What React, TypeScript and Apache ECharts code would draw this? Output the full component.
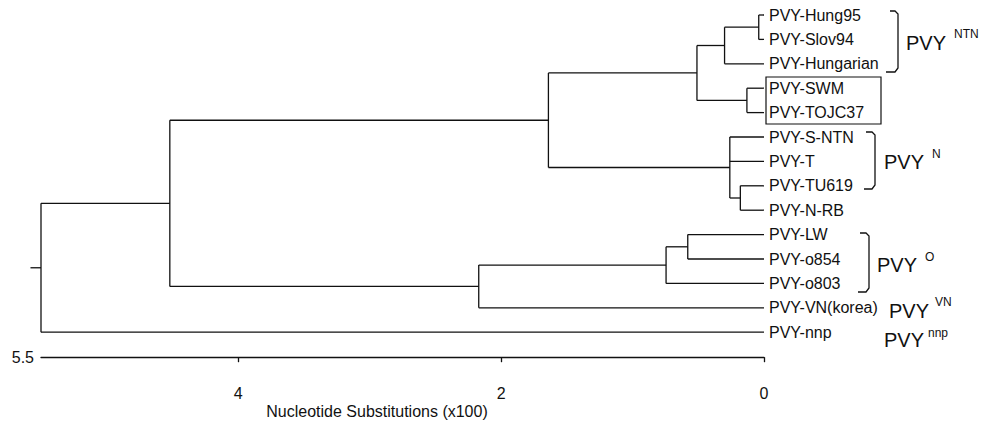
import React, { useEffect, useRef } from "react";
import * as echarts from "echarts";

// Leaves, top to bottom
const leafNames = [
  "PVY-Hung95",
  "PVY-Slov94",
  "PVY-Hungarian",
  "PVY-SWM",
  "PVY-TOJC37",
  "PVY-S-NTN",
  "PVY-T",
  "PVY-TU619",
  "PVY-N-RB",
  "PVY-LW",
  "PVY-o854",
  "PVY-o803",
  "PVY-VN(korea)",
  "PVY-nnp",
];

// Internal nodes (merge order): children ids and node height (x100 substitutions)
const mergeChildren: string[][] = [
  ["L0", "L1"],
  ["N0", "L2"],
  ["L3", "L4"],
  ["N1", "N2"],
  ["L7", "L8"],
  ["L5", "L6", "N4"],
  ["N3", "N5"],
  ["L9", "L10"],
  ["N7", "L11"],
  ["N8", "L12"],
  ["N6", "N9"],
  ["N10", "L13"],
];
const mergeHeights = [0.04, 0.3, 0.13, 0.51, 0.18, 0.26, 1.64, 0.58, 0.745, 2.17, 4.52, 5.5];
const rootStub = 0.08;

const axisTicks = [0, 2, 4];
const axisMax = 5.5;
const axisTitle = "Nucleotide Substitutions (x100)";

const cladeNames = ["NTN", "N", "O", "VN", "nnp"];

const FONT = "'Liberation Sans', Arial, sans-serif";
const INK = "#111";

function buildSegments() {
  const pos: Record<string, { x: number; y: number }> = {};
  leafNames.forEach((_, i) => (pos["L" + i] = { x: 0, y: i }));
  const segs: number[][][] = [];
  mergeChildren.forEach((ch, k) => {
    const h = mergeHeights[k];
    const ys = ch.map((c) => pos[c].y);
    const y0 = ys[0];
    const y1 = ys[ys.length - 1];
    segs.push([
      [h, y0],
      [h, y1],
    ]);
    ch.forEach((c) => {
      segs.push([
        [h, pos[c].y],
        [pos[c].x, pos[c].y],
      ]);
    });
    pos["N" + k] = { x: h, y: (y0 + y1) / 2 };
  });
  const root = pos["N" + (mergeChildren.length - 1)];
  segs.push([
    [root.x + rootStub, root.y],
    [root.x, root.y],
  ]);
  return segs;
}

export default function App() {
  const ref = useRef<HTMLDivElement>(null);
  useEffect(() => {
    if (!ref.current) return;
    const chart = echarts.init(ref.current, null, { renderer: "svg" });
    const segs = buildSegments();
    const lineStyle = { stroke: INK, lineWidth: 1.3, fill: "none" };
    const big = (text: string, x: number, y: number) => ({
      type: "text",
      x,
      y,
      style: { text, font: `20px ${FONT}`, fill: INK, textVerticalAlign: "middle" },
    });
    const sup = (text: string, x: number, y: number) => ({
      type: "text",
      x,
      y,
      style: { text, font: `12px ${FONT}`, fill: INK, textVerticalAlign: "middle" },
    });
    chart.setOption({
      animation: false,
      backgroundColor: "#fff",
      grid: { left: 41, right: 225, top: 15, bottom: 96.8 },
      xAxis: {
        type: "value",
        inverse: true,
        min: 0,
        max: axisMax,
        interval: 2,
        offset: 25,
        axisLine: { show: true, onZero: false, lineStyle: { color: INK, width: 1.3 } },
        axisTick: { show: true, length: 5, customValues: axisTicks, lineStyle: { color: INK, width: 1.3 } },
        axisLabel: {
          customValues: axisTicks,
          margin: 28,
          color: INK,
          fontSize: 16,
          fontFamily: FONT,
        },
        splitLine: { show: false },
      },
      yAxis: {
        type: "value",
        inverse: true,
        min: 0,
        max: leafNames.length - 1,
        interval: 1,
        position: "right",
        axisLine: { show: false, onZero: false },
        axisTick: { show: false },
        splitLine: { show: false },
        axisLabel: {
          margin: 5,
          color: INK,
          fontSize: 16,
          fontFamily: FONT,
          formatter: (v: number) => leafNames[v] ?? "",
        },
      },
      series: [
        {
          type: "lines",
          coordinateSystem: "cartesian2d",
          polyline: true,
          clip: false,
          silent: true,
          lineStyle: { color: INK, width: 1.3, opacity: 1 },
          data: segs.map((s) => ({ coords: s })),
        },
      ],
      graphic: [
        {
          type: "text",
          x: 34,
          y: 357,
          style: { text: String(axisMax), font: `16px ${FONT}`, fill: INK, textAlign: "right", textVerticalAlign: "middle" },
        },
        {
          type: "text",
          x: 377,
          y: 411,
          style: { text: axisTitle, font: `16px ${FONT}`, fill: INK, textAlign: "center", textVerticalAlign: "middle" },
        },
        // box around SWM / TOJC37
        { type: "rect", shape: { x: 766, y: 77, width: 115, height: 47 }, style: { stroke: INK, lineWidth: 1.2, fill: "none" } },
        // NTN bracket
        { type: "polyline", shape: { points: [[890, 11], [895, 11], [898, 14], [898, 68], [895, 72], [886, 72]] }, style: lineStyle },
        // N bracket
        { type: "polyline", shape: { points: [[866, 132], [872, 132], [875, 135], [875, 185], [872, 189], [864, 189]] }, style: lineStyle },
        // O bracket
        { type: "polyline", shape: { points: [[860, 233], [866, 233], [869, 236], [869, 288], [866, 292], [858, 292]] }, style: lineStyle },
        big("PVY", 906, 43),
        sup(cladeNames[0], 954, 34),
        big("PVY", 884, 162),
        sup(cladeNames[1], 932, 154),
        big("PVY", 877, 265),
        sup(cladeNames[2], 925, 257),
        big("PVY", 889, 311),
        sup(cladeNames[3], 935, 302),
        big("PVY", 884, 340),
        sup(cladeNames[4], 928, 333),
      ],
    });
    return () => chart.dispose();
  }, []);
  return (
    <div
      ref={ref}
      style={{ position: "fixed", left: 0, top: 0, width: 989, height: 429, background: "#fff" }}
    />
  );
}
